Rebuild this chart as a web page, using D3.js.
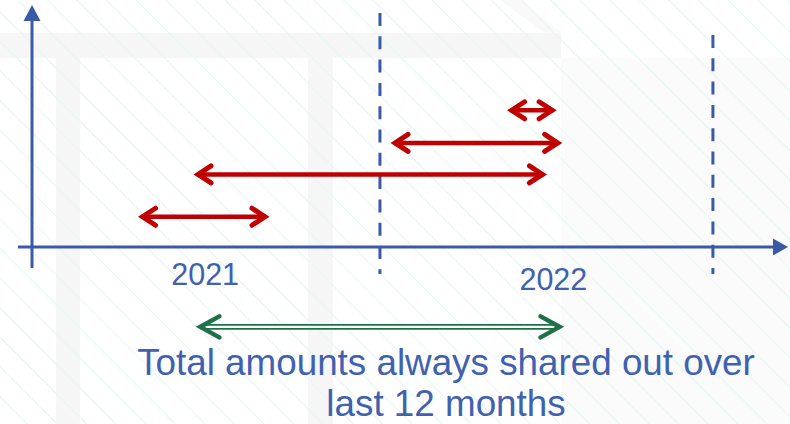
<!DOCTYPE html>
<html>
<head>
<meta charset="utf-8">
<style>
  body { margin: 0; background: #fff; }
  svg { display: block; font-family: "Liberation Sans", Arial, sans-serif; }
</style>
</head>
<body>
<svg width="790" height="424"></svg>
<script src="https://d3js.org/d3.v7.min.js"></script>
<script>
// timeline in months, 0 = start of 2021
var years = ["2021", "2022"];
var yearLabelAt = [5.7, 18.25];
var yearEnds = [12, 24];

// red periods: start month, end month, level
var periodStart = [16.6, 12.4, 5.3, 3.3];
var periodEnd = [18.35, 18.55, 18.0, 8.0];
var periodLevel = [56.5, 43, 30, 12.5];

// green window (rolling 12 months)
var windowSpan = [5.4, 18.6];
var windowLevel = -33;

var caption = ["Total amounts always shared out over", "last 12 months"];

var blue = "#3a5aa8", red = "#c00000", green = "#1f7047", textBlue = "#4060b0";

var svg = d3.select("svg");

var x = d3.scaleLinear().domain([-0.54, 26.67]).range([32, 787]);
var y = d3.scaleLinear().domain([0, 100]).range([247, 5]);

// ---- background (window frame + faint hatching)
var bg = svg.append("g");
bg.append("rect").attr("width", 790).attr("height", 424).attr("fill", "#fff");
bg.append("rect").attr("x", 561).attr("y", 58).attr("width", 229).attr("height", 366).attr("fill", "#fbfbfb");
bg.append("rect").attr("x", 0).attr("y", 33).attr("width", 561).attr("height", 25).attr("fill", "#f6f6f6");
bg.append("rect").attr("x", 56).attr("y", 58).attr("width", 24).attr("height", 366).attr("fill", "#f6f6f6");
bg.append("rect").attr("x", 308).attr("y", 58).attr("width", 25).attr("height", 366).attr("fill", "#f6f6f6");
bg.append("path").attr("d", "M500,0 L522,0 L561,33 L545,33 Z").attr("fill", "#f9f9f9");

bg.selectAll("line.hatch")
  .data(d3.range(-430, 800, 29.6).map(function(c) { return c + (507 % 29.6); }))
  .enter().append("line")
    .attr("class", "hatch")
    .attr("x1", function(c) { return c; })
    .attr("y1", 0)
    .attr("x2", function(c) { return c + 424; })
    .attr("y2", 424)
    .attr("stroke", "#e6f6f6")
    .attr("stroke-width", 1.1);

// ---- dashed year boundaries
svg.selectAll("line.yearEnd")
  .data(yearEnds)
  .enter().append("line")
    .attr("class", "yearEnd")
    .attr("x1", function(d) { return x(d); })
    .attr("x2", function(d) { return x(d); })
    .attr("y1", function(d, i) { return i == 0 ? 13 : 35; })
    .attr("y2", 274)
    .attr("stroke", blue)
    .attr("stroke-width", 3)
    .attr("stroke-dasharray", "13,10.3");

// ---- axes
var ax = svg.append("g").attr("fill", blue).attr("stroke", blue);
ax.append("line").attr("x1", 18).attr("y1", y(0)).attr("x2", 776).attr("y2", y(0)).attr("stroke-width", 3);
ax.append("path").attr("stroke", "none")
  .attr("d", "M773," + (y(0) - 8.5) + " L788," + y(0) + " L773," + (y(0) + 8.5) + " Z");
ax.append("line").attr("x1", x.range()[0]).attr("y1", 268).attr("x2", x.range()[0]).attr("y2", 18).attr("stroke-width", 3);
ax.append("path").attr("stroke", "none")
  .attr("d", "M" + (x.range()[0] - 8.5) + ",21 L" + x.range()[0] + ",5 L" + (x.range()[0] + 8.5) + ",21 Z");

svg.selectAll("text.year")
  .data(years)
  .enter().append("text")
    .attr("class", "year")
    .attr("x", function(d, i) { return x(yearLabelAt[i]); })
    .attr("y", function(d, i) { return i == 0 ? 285 : 290; })
    .attr("text-anchor", "middle")
    .attr("font-size", 30.5)
    .attr("fill", textBlue)
    .text(function(d) { return d; });

// ---- double headed arrows
function chevrons(x0, x1, yy, len, half) {
  return "M" + (x0 + len) + "," + (yy - half) + " L" + x0 + "," + yy + " L" + (x0 + len) + "," + (yy + half) +
         " M" + (x1 - len) + "," + (yy - half) + " L" + x1 + "," + yy + " L" + (x1 - len) + "," + (yy + half);
}

var periods = periodStart.map(function(s, i) {
  return { s: s, e: periodEnd[i], lvl: periodLevel[i] };
});

var arr = svg.selectAll("g.period")
  .data(periods)
  .enter().append("g")
    .attr("class", "period")
    .attr("stroke", red)
    .attr("fill", "none");

arr.append("line")
  .attr("x1", function(d) { return x(d.s) + 3; })
  .attr("x2", function(d) { return x(d.e) - 3; })
  .attr("y1", function(d) { return y(d.lvl); })
  .attr("y2", function(d) { return y(d.lvl); })
  .attr("stroke-width", 4.5);

arr.append("path")
  .attr("d", function(d) { return chevrons(x(d.s) + 4, x(d.e) - 4, y(d.lvl), 13, 8.5); })
  .attr("stroke-width", 5)
  .attr("stroke-linecap", "round")
  .attr("stroke-linejoin", "miter");

// green rolling window
var gw = svg.append("g").attr("stroke", green).attr("fill", "none");
var gy = y(windowLevel);
[-2, 2].forEach(function(off) {
  gw.append("line")
    .attr("x1", x(windowSpan[0]) + 4).attr("x2", x(windowSpan[1]) - 4)
    .attr("y1", gy + off).attr("y2", gy + off)
    .attr("stroke-width", 1.8);
});
gw.append("path")
  .attr("d", chevrons(x(windowSpan[0]) + 3.5, x(windowSpan[1]) - 3.5, gy, 19, 10.5))
  .attr("stroke-width", 4.5)
  .attr("stroke-linecap", "round")
  .attr("stroke-linejoin", "miter");

// ---- caption
svg.selectAll("text.caption")
  .data(caption)
  .enter().append("text")
    .attr("class", "caption")
    .attr("x", 446)
    .attr("y", function(d, i) { return 375 + i * 41; })
    .attr("text-anchor", "middle")
    .attr("font-size", 36.8)
    .attr("fill", textBlue)
    .text(function(d) { return d; });
</script>
</body>
</html>
